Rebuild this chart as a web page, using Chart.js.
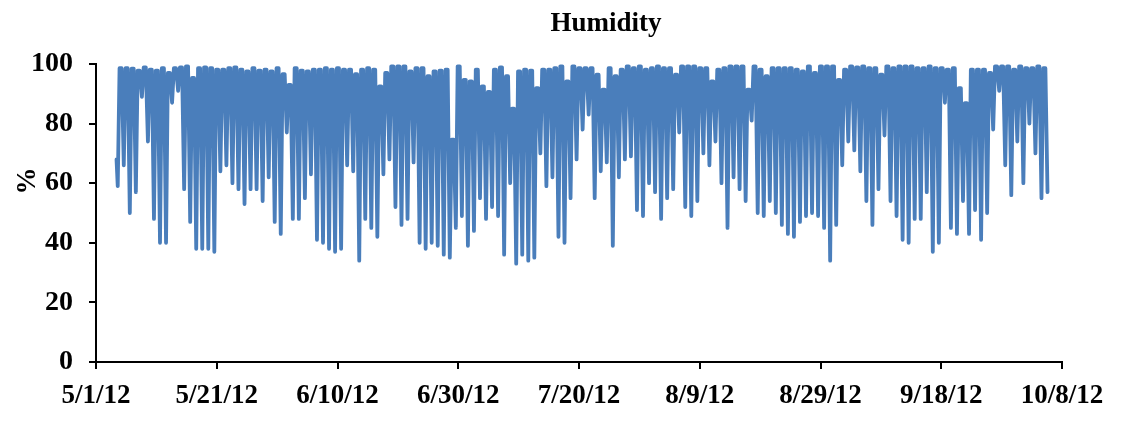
<!DOCTYPE html>
<html>
<head>
<meta charset="utf-8">
<title>Humidity</title>
<script src="https://cdn.jsdelivr.net/npm/chart.js@4/dist/chart.umd.min.js"></script>
<style>
  html, body { margin: 0; padding: 0; background: #fff; }
  #wrap { width: 1127px; height: 423px; }
</style>
</head>
<body>
<div id="wrap"><canvas id="humidity-chart" width="1127" height="423"></canvas></div>
<script>
// x axis: days since 5/1/12, labelled every 20 days
const xTickLabels = ['5/1/12', '5/21/12', '6/10/12', '6/30/12', '7/20/12', '8/9/12', '8/29/12', '9/18/12', '10/8/12'];
const yTicks = [0, 20, 40, 60, 80, 100];
const chartTitle = 'Humidity';
const yAxisTitle = '%';

// series starts on 5/4 afternoon, one afternoon low per day, humid nights in between
const firstDay = 3.6;
const startValue = 68;

// daily minimum humidity (%)
const lows = [
  59, 66, 50, 57, 89, 74, 48, 40, 40, 87, 91, 58, 47, 38, 38, 38, 37, 64, 66,
  60, 58, 53, 58, 58, 54, 62, 47, 43, 77, 48, 48, 55, 63, 41, 40, 38, 37, 38, 66, 64,
  34, 48, 45, 42, 63, 68, 52, 46, 48, 67, 40, 38, 40, 39, 36, 35, 45, 49, 39, 44, 55,
  48, 52, 49, 36, 60, 33, 36, 34, 35, 70, 59, 62, 42, 40, 55, 68, 78, 83, 55, 64,
  67, 39, 62, 68, 69, 51, 49, 60, 57, 48, 55, 58, 77, 52, 49, 54, 70, 66, 74, 60, 45,
  62, 58, 54, 81, 50, 49, 54, 50, 46, 43, 42, 47, 49, 50, 49, 45, 34, 46, 66, 74, 71,
  64, 54, 46, 58, 76, 54, 49, 41, 40, 48, 48, 57, 37, 40, 87, 45, 43, 54, 43,
  51, 41, 50, 78, 91, 66, 56, 74, 60, 80, 70, 55, 57
];

// night-time maximum humidity (%) after each low
const highs = [
  98.6, 98.6, 98.4, 97.8, 98.9, 98.1, 97.8, 98.6, 97.0, 98.6, 98.9, 99.2, 95.3, 98.6, 98.9, 98.6, 98.1, 98.1, 98.6,
  98.9, 98.1, 97.5, 98.6, 97.8, 98.1, 97.5, 98.6, 96.6, 93.0, 98.6, 97.8, 97.5, 98.1, 98.1, 98.6, 98.1, 98.6, 98.1, 98.1, 96.6,
  98.1, 98.6, 98.1, 92.5, 97.0, 99.2, 99.2, 99.2, 97.5, 98.6, 98.6, 95.9, 97.5, 97.8, 98.1, 74.6, 99.2, 94.7, 94.2, 98.1, 92.5,
  90.6, 98.1, 98.9, 95.9, 85.0, 97.5, 98.1, 97.8, 91.9, 98.1, 98.1, 98.6, 99.2, 94.2, 99.2, 98.6, 98.6, 98.6, 96.4, 91.4,
  98.6, 95.9, 98.1, 99.2, 98.6, 99.2, 98.1, 98.6, 99.2, 98.6, 98.6, 96.4, 99.2, 99.2, 99.2, 98.6, 98.6, 94.2, 98.1, 98.6, 99.2,
  99.2, 99.2, 91.4, 99.2, 98.1, 95.9, 98.6, 98.6, 98.6, 98.6, 98.1, 97.5, 99.2, 97.0, 99.2, 99.2, 99.2, 94.7, 98.1, 99.2, 98.9,
  99.2, 98.6, 98.6, 96.4, 99.2, 98.6, 99.2, 99.2, 99.2, 98.6, 98.6, 99.2, 98.6, 98.6, 98.1, 98.6, 91.9, 86.9, 98.1,
  98.1, 98.1, 97.0, 99.2, 99.2, 99.2, 98.1, 99.2, 98.6, 98.6, 99.2, 98.6
];

// point list: start, then for each day the low and the humid night (reached, then held until morning)
const puntos = [{ x: firstDay - 0.2, y: startValue }];
lows.forEach((v, i) => {
  puntos.push({ x: firstDay + i, y: v });
  if (i < highs.length) {
    puntos.push({ x: firstDay + i + 0.3, y: highs[i] });
    puntos.push({ x: firstDay + i + 0.65, y: highs[i] });
  }
});

const FONT = "'Liberation Serif', 'Times New Roman', serif";

// title and "%" are placed like the original (not centred on the plot area)
const titlesPlugin = {
  id: 'titles',
  afterDraw(chart) {
    const ctx = chart.ctx;
    ctx.save();
    ctx.fillStyle = '#000';
    ctx.textAlign = 'center';
    ctx.font = 'bold 27px ' + FONT;
    ctx.textBaseline = 'alphabetic';
    ctx.fillText(chartTitle, 606, 31);

    ctx.translate(28, 181);
    ctx.rotate(-Math.PI / 2);
    ctx.textBaseline = 'middle';
    ctx.fillText(yAxisTitle, 0, 0);
    ctx.restore();
  }
};

new Chart(document.getElementById('humidity-chart'), {
  type: 'line',
  data: {
    datasets: [{
      label: chartTitle,
      data: puntos,
      borderColor: '#4A7EBB',
      borderWidth: 3.8,
      borderJoinStyle: 'round',
      borderCapStyle: 'round',
      pointRadius: 0,
      tension: 0,
      fill: false
    }]
  },
  options: {
    responsive: false,
    animation: false,
    layout: { padding: { left: 0, right: 65, top: 64, bottom: 0 } },
    plugins: {
      legend: { display: false },
      tooltip: { enabled: false },
      title: { display: false }
    },
    scales: {
      x: {
        type: 'linear',
        min: 0,
        max: 160,
        afterFit: s => { s.height = 61; },
        afterBuildTicks: s => { s.ticks = xTickLabels.map((_, i) => ({ value: i * 20 })); },
        ticks: {
          callback: v => xTickLabels[v / 20],
          color: '#000',
          font: { family: FONT, size: 27, weight: 'bold' },
          padding: 11,
          maxRotation: 0,
          autoSkip: false
        },
        grid: { drawOnChartArea: false, drawTicks: true, tickLength: 7, color: '#000', lineWidth: 2 },
        border: { color: '#000', width: 2 }
      },
      y: {
        min: 0,
        max: 100,
        afterFit: s => { s.width = 96; },
        afterBuildTicks: s => { s.ticks = yTicks.map(v => ({ value: v })); },
        ticks: {
          color: '#000',
          font: { family: FONT, size: 28, weight: 'bold' },
          padding: 16
        },
        grid: { drawOnChartArea: false, drawTicks: true, tickLength: 7, color: '#000', lineWidth: 2 },
        border: { color: '#000', width: 2 }
      }
    }
  },
  plugins: [titlesPlugin]
});
</script>
</body>
</html>
